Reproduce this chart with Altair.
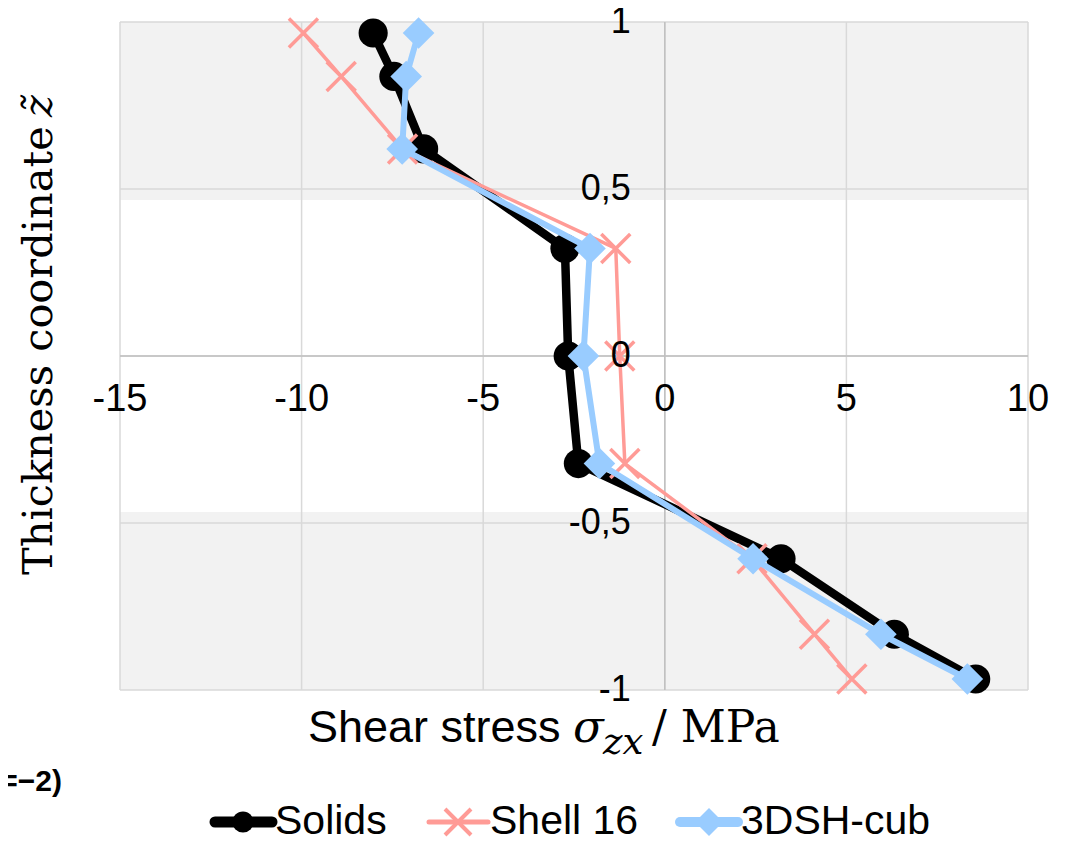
import altair as alt
import pandas as pd

# ---------------- data ----------------
z_coord = [0.967, 0.837, 0.62, 0.322, 0.0, -0.322, -0.607, -0.833, -0.967]
solids = [-8.03, -7.46, -6.64, -2.75, -2.66, -2.38, 3.2, 6.32, 8.56]
shell16 = [-9.95, -8.91, -7.22, -1.35, -1.24, -1.1, 2.4, 4.12, 5.15]
dsh_cub = [-6.78, -7.12, -7.23, -2.06, -2.24, -1.8, 2.43, 5.95, 8.33]
series_names = ["Solids", "Shell 16", "3DSH-cub"]

x_ticks = [-15, -10, -5, 0, 5, 10]
x_tick_labels = ["-15", "-10", "-5", "0", "5", "10"]
y_ticks = [1, 0.5, 0, -0.5, -1]
y_tick_labels = ["1", "0,5", "0", "-0,5", "-1"]
band_lo = [0.467, -1.0]
band_hi = [1.0, -0.467]

# ---------------- styling ----------------
W, H = 908, 668
BLACK = "#000000"
PINK = "#FF9B96"
BLUE = "#99CCFF"
GRID = "#D9D9D9"
ZERO = "#BFBFBF"
BAND = "#F2F2F2"
XPATH = "M-1,-1L1,1M-1,1L1,-1"

xs = alt.Scale(domain=[x_ticks[0], x_ticks[-1]], nice=False, zero=False)
ys = alt.Scale(domain=[y_ticks[-1], y_ticks[0]], nice=False, zero=False)


def X(f):
    return alt.X(f, type="quantitative", scale=xs, axis=None)


def Y(f):
    return alt.Y(f, type="quantitative", scale=ys, axis=None)


band_df = pd.DataFrame({"lo": band_lo, "hi": band_hi,
                        "x0": x_ticks[0], "x1": x_ticks[-1]})
bands = alt.Chart(band_df).mark_rect(color=BAND).encode(
    x=X("x0"), x2="x1", y=Y("lo"), y2="hi")

xt_df = pd.DataFrame({"x": x_ticks, "lab": x_tick_labels, "z0": 0.0})
yt_df = pd.DataFrame({"y": y_ticks, "lab": y_tick_labels, "x0": 0.0})

vgrid = alt.Chart(xt_df).mark_rule(color=GRID, strokeWidth=1.5).encode(x=X("x"))
hgrid = alt.Chart(yt_df).mark_rule(color=GRID, strokeWidth=1.5).encode(y=Y("y"))
vzero = alt.Chart(pd.DataFrame({"x": [0.0]})).mark_rule(color=ZERO, strokeWidth=1.5).encode(x=X("x"))
hzero = alt.Chart(pd.DataFrame({"y": [0.0]})).mark_rule(color=ZERO, strokeWidth=1.5).encode(y=Y("y"))

xlabels = alt.Chart(xt_df).mark_text(
    font="Liberation Sans", fontSize=38, color="black", align="center",
    baseline="middle", dy=44).encode(x=X("x"), y=Y("z0"), text="lab:N")
ylabels = alt.Chart(yt_df).mark_text(
    font="Liberation Sans", fontSize=36, color="black", align="right",
    baseline="middle", dx=-34).encode(x=X("x0"), y=Y("y"), text="lab:N")


def series_df(vals, name):
    return pd.DataFrame({"x": vals, "z": z_coord, "i": list(range(len(vals))),
                         "s": name})


def series_layers(vals, name, color, lw, point_kw):
    d = series_df(vals, name)
    line = alt.Chart(d).mark_line(color=color, strokeWidth=lw, strokeJoin="round").encode(
        x=X("x"), y=Y("z"), order="i:Q")
    pts = alt.Chart(d).mark_point(opacity=1, **point_kw).encode(x=X("x"), y=Y("z"))
    return [line, pts]


layers = [bands, vgrid, hgrid, vzero, hzero]
layers += series_layers(solids, series_names[0], BLACK, 8.5,
                        dict(shape="circle", filled=True, size=850, color=BLACK))
layers += series_layers(shell16, series_names[1], PINK, 3.5,
                        dict(shape=XPATH, filled=False, size=841, stroke=PINK, strokeWidth=3.5))
layers += series_layers(dsh_cub, series_names[2], BLUE, 6,
                        dict(shape="diamond", filled=True, size=1000, color=BLUE))
layers += [xlabels, ylabels]

# ---------------- titles ----------------
one = pd.DataFrame({"t": [""]})


def txt(s, x, y, **kw):
    return alt.Chart(one).mark_text(**kw).encode(
        x=alt.value(x), y=alt.value(y), text=alt.value(s))


layers += [
    txt("Thickness coordinate", -80, 553, angle=270, font="DejaVu Serif",
        fontSize=41.5, align="left", baseline="middle", color="black"),
    txt("z\u0303", -80, 73, angle=270, font="DejaVu Serif", fontStyle="italic",
        fontSize=41.5, align="right", baseline="middle", color="black"),
    txt("Shear stress", 188, 720, font="Liberation Sans", fontSize=45,
        align="left", baseline="alphabetic", color="black"),
    txt("\u03c3", 453, 720, font="DejaVu Serif", fontStyle="italic", fontSize=45,
        align="left", baseline="alphabetic", color="black"),
    txt("zx", 483, 732, font="DejaVu Serif", fontStyle="italic", fontSize=37,
        align="left", baseline="alphabetic", color="black"),
    txt("/ MPa", 532, 720, font="DejaVu Serif", fontSize=44,
        align="left", baseline="alphabetic", color="black"),
    txt("=\u22122)", -58, 760, font="Liberation Sans", fontWeight="bold", fontSize=30,
        align="right", baseline="middle", color="black"),
]

# ---------------- legend ----------------
LY = 800
leg = [
    (series_names[0], 95, 152, 123, 155, BLACK, 11,
     dict(shape="circle", filled=True, size=450, color=BLACK)),
    (series_names[1], 309, 368, 338, 370, PINK, 5,
     dict(shape=XPATH, filled=False, size=676, stroke=PINK, strokeWidth=4)),
    (series_names[2], 560, 618, 589, 621, BLUE, 10,
     dict(shape="diamond", filled=True, size=784, color=BLUE)),
]
for name, x1, x2, cx, tx, col, lw, pk in leg:
    layers.append(alt.Chart(one).mark_rule(color=col, strokeWidth=lw, strokeCap="round").encode(
        x=alt.value(x1), x2=alt.value(x2), y=alt.value(LY)))
    layers.append(alt.Chart(one).mark_point(opacity=1, **pk).encode(
        x=alt.value(cx), y=alt.value(LY)))
    layers.append(txt(name, tx, LY, font="Liberation Sans", fontSize=41,
                      align="left", baseline="middle", color="black"))

chart = alt.layer(*layers).properties(
    width=W, height=H,
    autosize=alt.AutoSizeParams(type="none"),
    padding={"left": 112, "top": 14, "right": 30, "bottom": 152},
    background="white",
).configure_view(stroke=None)

chart.save("out.html", embed_options={"renderer": "svg", "actions": False})
